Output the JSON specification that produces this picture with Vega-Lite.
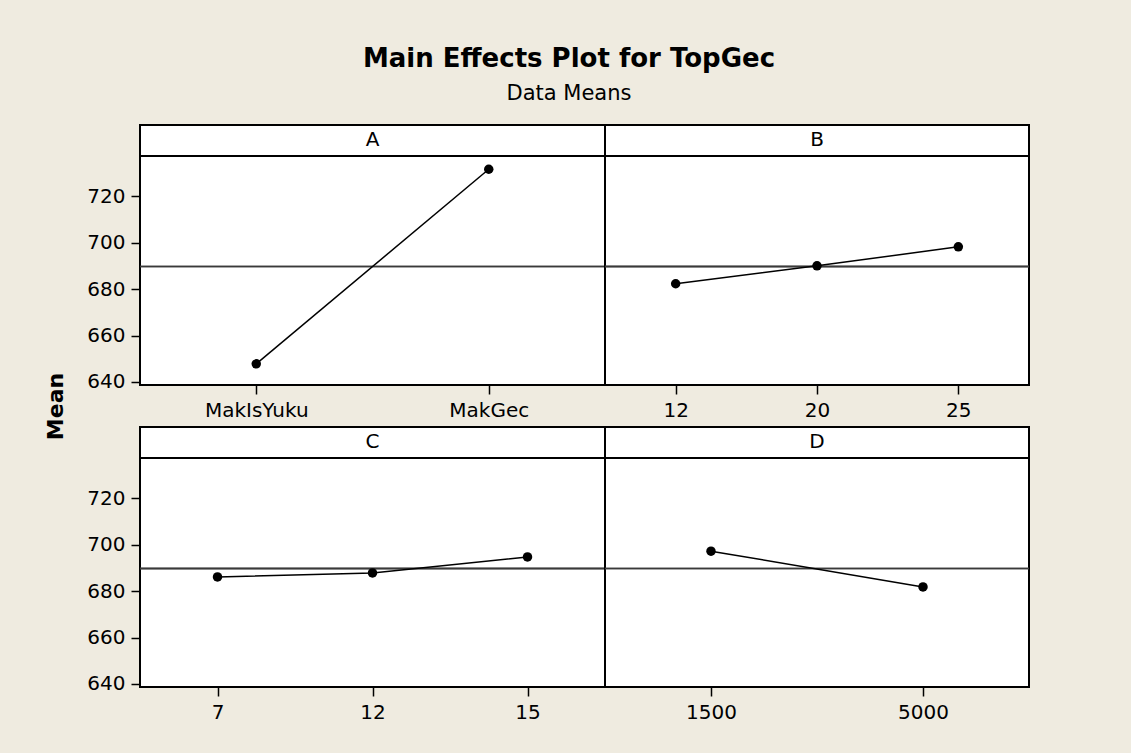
{
  "$schema": "https://vega.github.io/schema/vega-lite/v6.json",
  "background": "#EFEBE0",
  "padding": {"left": 41, "top": 46, "right": 101, "bottom": 33},
  "title": {
    "text": "Main Effects Plot for TopGec",
    "subtitle": "Data Means",
    "anchor": "middle",
    "dx": 33,
    "font": "DejaVu Sans",
    "fontSize": 26,
    "fontWeight": "bold",
    "color": "black",
    "subtitleFont": "DejaVu Sans",
    "subtitleFontSize": 21,
    "subtitleColor": "black",
    "subtitlePadding": 11,
    "offset": 20
  },
  "data": {
    "values": [
      {"factor": "A", "level": "MakIsYuku", "mean": 647.8},
      {"factor": "A", "level": "MakGec", "mean": 731.6},
      {"factor": "B", "level": "12", "mean": 682.3},
      {"factor": "B", "level": "20", "mean": 690.0},
      {"factor": "B", "level": "25", "mean": 698.2},
      {"factor": "C", "level": "7", "mean": 686.1},
      {"factor": "C", "level": "12", "mean": 687.8},
      {"factor": "C", "level": "15", "mean": 694.7},
      {"factor": "D", "level": "1500", "mean": 697.2},
      {"factor": "D", "level": "5000", "mean": 681.8}
    ]
  },
  "spacing": 14,
  "hconcat": [
    {
      "data": {"values": [{"label": "Mean"}]},
      "width": 30,
      "height": 563,
      "view": {"stroke": null, "fill": null},
      "mark": {"type": "text", "angle": 270, "font": "DejaVu Sans", "fontSize": 22, "fontWeight": "bold", "color": "black", "baseline": "middle", "align": "center"},
      "encoding": {"text": {"field": "label"}}
    },
    {
      "columns": 2,
      "align": "each",
      "bounds": "flush",
      "spacing": {"row": 42, "column": 0},
      "concat": [
        {
          "width": 465, "height": 260,
          "transform": [{"filter": "datum.factor === 'A'"}],
          "layer": [
            {"mark": {"type": "rule", "color": "black", "strokeWidth": 2},
             "encoding": {"y": {"datum": 737.3, "type": "quantitative", "title": null, "axis": {"values": [640, 660, 680, 700, 720]}, "scale": {"domain": [638.7, 750.65], "nice": false, "zero": false}}}},
            {"transform": [{"aggregate": [{"op": "count", "as": "n"}], "groupby": ["factor"]}],
             "mark": {"type": "text", "fontSize": 20, "color": "black", "baseline": "middle", "align": "center"},
             "encoding": {"text": {"field": "factor"}, "y": {"datum": 744, "type": "quantitative", "title": null, "axis": {"values": [640, 660, 680, 700, 720]}, "scale": {"domain": [638.7, 750.65], "nice": false, "zero": false}}}},
            {"mark": {"type": "rule", "color": "#3a3a3a", "strokeWidth": 1.5},
             "encoding": {"y": {"datum": 689.7, "type": "quantitative", "title": null, "axis": {"values": [640, 660, 680, 700, 720]}, "scale": {"domain": [638.7, 750.65], "nice": false, "zero": false}}}},
            {"mark": {"type": "line", "color": "black", "strokeWidth": 1.5},
             "encoding": {
               "x": {"field": "level", "type": "ordinal", "sort": null, "title": null},
               "y": {"field": "mean", "type": "quantitative", "title": null, "scale": {"domain": [638.7, 750.65], "nice": false, "zero": false}, "axis": {"values": [640, 660, 680, 700, 720]}}}},
            {"mark": {"type": "point", "filled": true, "color": "black", "size": 90, "opacity": 1},
             "encoding": {
               "x": {"field": "level", "type": "ordinal", "sort": null, "title": null},
               "y": {"field": "mean", "type": "quantitative", "title": null, "scale": {"domain": [638.7, 750.65], "nice": false, "zero": false}, "axis": {"values": [640, 660, 680, 700, 720]}}}}
          ]
        },
        {
          "width": 424, "height": 260,
          "transform": [{"filter": "datum.factor === 'B'"}],
          "layer": [
            {"mark": {"type": "rule", "color": "black", "strokeWidth": 2},
             "encoding": {"y": {"datum": 737.3, "type": "quantitative", "axis": null, "scale": {"domain": [638.7, 750.65], "nice": false, "zero": false}}}},
            {"transform": [{"aggregate": [{"op": "count", "as": "n"}], "groupby": ["factor"]}],
             "mark": {"type": "text", "fontSize": 20, "color": "black", "baseline": "middle", "align": "center"},
             "encoding": {"text": {"field": "factor"}, "y": {"datum": 744, "type": "quantitative", "axis": null, "scale": {"domain": [638.7, 750.65], "nice": false, "zero": false}}}},
            {"mark": {"type": "rule", "color": "#3a3a3a", "strokeWidth": 1.5},
             "encoding": {"y": {"datum": 689.7, "type": "quantitative", "axis": null, "scale": {"domain": [638.7, 750.65], "nice": false, "zero": false}}}},
            {"mark": {"type": "line", "color": "black", "strokeWidth": 1.5},
             "encoding": {
               "x": {"field": "level", "type": "ordinal", "sort": null, "title": null},
               "y": {"field": "mean", "type": "quantitative", "title": null, "scale": {"domain": [638.7, 750.65], "nice": false, "zero": false}, "axis": null}}},
            {"mark": {"type": "point", "filled": true, "color": "black", "size": 90, "opacity": 1},
             "encoding": {
               "x": {"field": "level", "type": "ordinal", "sort": null, "title": null},
               "y": {"field": "mean", "type": "quantitative", "title": null, "scale": {"domain": [638.7, 750.65], "nice": false, "zero": false}, "axis": null}}}
          ]
        },
        {
          "width": 465, "height": 260,
          "transform": [{"filter": "datum.factor === 'C'"}],
          "layer": [
            {"mark": {"type": "rule", "color": "black", "strokeWidth": 2},
             "encoding": {"y": {"datum": 737.3, "type": "quantitative", "title": null, "axis": {"values": [640, 660, 680, 700, 720]}, "scale": {"domain": [638.7, 750.65], "nice": false, "zero": false}}}},
            {"transform": [{"aggregate": [{"op": "count", "as": "n"}], "groupby": ["factor"]}],
             "mark": {"type": "text", "fontSize": 20, "color": "black", "baseline": "middle", "align": "center"},
             "encoding": {"text": {"field": "factor"}, "y": {"datum": 744, "type": "quantitative", "title": null, "axis": {"values": [640, 660, 680, 700, 720]}, "scale": {"domain": [638.7, 750.65], "nice": false, "zero": false}}}},
            {"mark": {"type": "rule", "color": "#3a3a3a", "strokeWidth": 1.5},
             "encoding": {"y": {"datum": 689.7, "type": "quantitative", "title": null, "axis": {"values": [640, 660, 680, 700, 720]}, "scale": {"domain": [638.7, 750.65], "nice": false, "zero": false}}}},
            {"mark": {"type": "line", "color": "black", "strokeWidth": 1.5},
             "encoding": {
               "x": {"field": "level", "type": "ordinal", "sort": null, "title": null},
               "y": {"field": "mean", "type": "quantitative", "title": null, "scale": {"domain": [638.7, 750.65], "nice": false, "zero": false}, "axis": {"values": [640, 660, 680, 700, 720]}}}},
            {"mark": {"type": "point", "filled": true, "color": "black", "size": 90, "opacity": 1},
             "encoding": {
               "x": {"field": "level", "type": "ordinal", "sort": null, "title": null},
               "y": {"field": "mean", "type": "quantitative", "title": null, "scale": {"domain": [638.7, 750.65], "nice": false, "zero": false}, "axis": {"values": [640, 660, 680, 700, 720]}}}}
          ]
        },
        {
          "width": 424, "height": 260,
          "transform": [{"filter": "datum.factor === 'D'"}],
          "layer": [
            {"mark": {"type": "rule", "color": "black", "strokeWidth": 2},
             "encoding": {"y": {"datum": 737.3, "type": "quantitative", "axis": null, "scale": {"domain": [638.7, 750.65], "nice": false, "zero": false}}}},
            {"transform": [{"aggregate": [{"op": "count", "as": "n"}], "groupby": ["factor"]}],
             "mark": {"type": "text", "fontSize": 20, "color": "black", "baseline": "middle", "align": "center"},
             "encoding": {"text": {"field": "factor"}, "y": {"datum": 744, "type": "quantitative", "axis": null, "scale": {"domain": [638.7, 750.65], "nice": false, "zero": false}}}},
            {"mark": {"type": "rule", "color": "#3a3a3a", "strokeWidth": 1.5},
             "encoding": {"y": {"datum": 689.7, "type": "quantitative", "axis": null, "scale": {"domain": [638.7, 750.65], "nice": false, "zero": false}}}},
            {"mark": {"type": "line", "color": "black", "strokeWidth": 1.5},
             "encoding": {
               "x": {"field": "level", "type": "ordinal", "sort": null, "title": null},
               "y": {"field": "mean", "type": "quantitative", "title": null, "scale": {"domain": [638.7, 750.65], "nice": false, "zero": false}, "axis": null}}},
            {"mark": {"type": "point", "filled": true, "color": "black", "size": 90, "opacity": 1},
             "encoding": {
               "x": {"field": "level", "type": "ordinal", "sort": null, "title": null},
               "y": {"field": "mean", "type": "quantitative", "title": null, "scale": {"domain": [638.7, 750.65], "nice": false, "zero": false}, "axis": null}}}
          ]
        }
      ]
    }
  ],
  "config": {
    "font": "DejaVu Sans",
    "view": {"stroke": "black", "strokeWidth": 2, "fill": "white"},
    "axis": {
      "labelFont": "DejaVu Sans",
      "labelFontSize": 20,
      "labelColor": "black",
      "tickColor": "black",
      "tickWidth": 1.5,
      "tickSize": 9,
      "domain": false,
      "grid": false
    },
    "axisX": {"labelAngle": 0, "labelPadding": 6},
    "axisY": {"labelPadding": 6}
  }
}
